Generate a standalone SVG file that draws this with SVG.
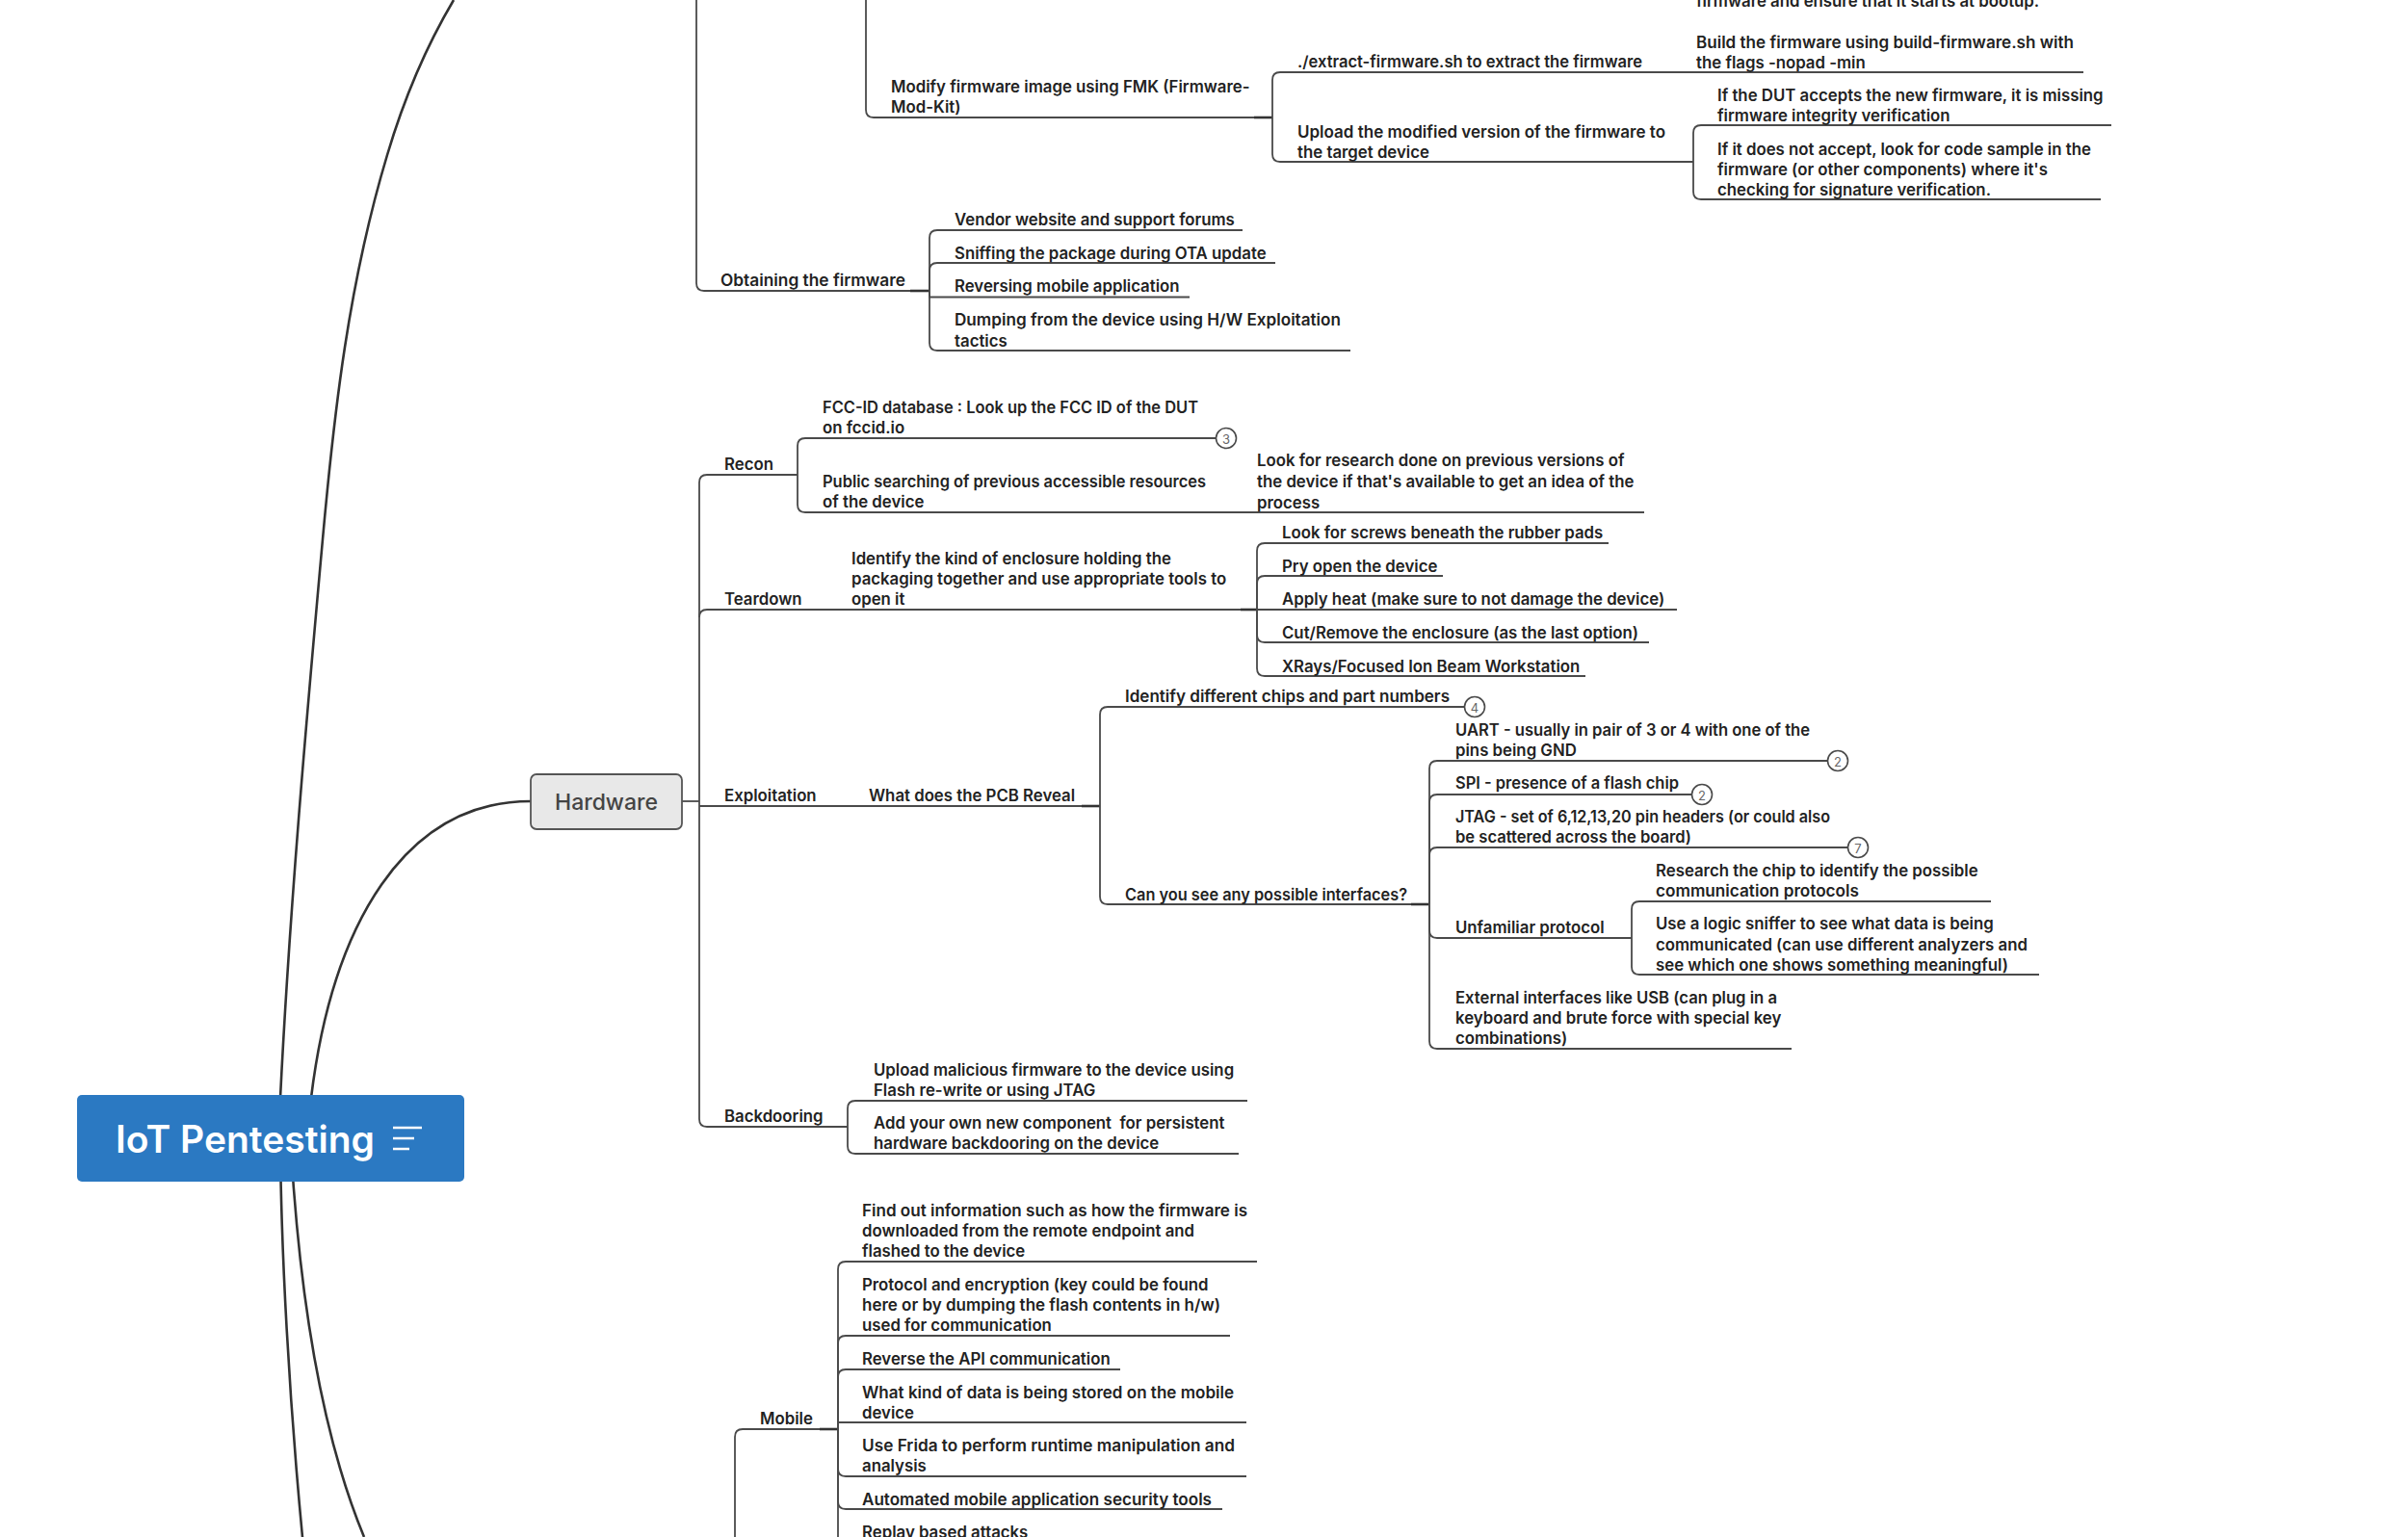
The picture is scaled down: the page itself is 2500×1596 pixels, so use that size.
<svg xmlns="http://www.w3.org/2000/svg" width="2500" height="1596" viewBox="0 0 2500 1596">
<style>
text{font-family:"Inter","Liberation Sans",sans-serif;font-weight:600;font-size:16.800px;fill:#222;white-space:pre;transform:translateY(.7px)}
.c{fill:none;stroke:#4a4a4a;stroke-width:1.8}
.s{fill:none;stroke:#333;stroke-width:2.6}
.t{fill:none;stroke:#333;stroke-width:2.6}
.b{fill:#fff;stroke:#4a4a4a;stroke-width:1.6}
.n{font-size:13px;font-weight:400;fill:#666;text-anchor:middle}
</style>
<rect width="2500" height="1596" fill="#fff"/>
<g id="connectors">
<path class="t" d="M291,1180C291,1165 291,1150 291,1140C300.600,947 317.600,753 335,560C347,427 362,294 402,161C418,107 439,54 471,0"/>
<path class="t" d="M323,1140C345,960 420,832 551,832"/>
<path class="t" d="M291,1190C292,1300 300,1450 314,1596"/>
<path class="t" d="M302,1190C310,1330 330,1480 378,1596"/>
<path class="c" d="M707,832H726"/>
<path class="c" d="M723,0V294Q723,302 731,302H965"/>
<path class="c" d="M899,0V114Q899,122 907,122H1321"/>
<path class="s" d="M1302,122H1321"/>
<path class="c" d="M1321,122V83Q1321,75 1329,75H2163"/>
<path class="c" d="M1321,122V160Q1321,168 1329,168H1758"/>
<path class="c" d="M1758,168V138Q1758,130 1766,130H2192"/>
<path class="c" d="M1758,168V199Q1758,207 1766,207H2181"/>
<path class="s" d="M945,302H965"/>
<path class="c" d="M965,302V247Q965,239 973,239H1290"/>
<path class="c" d="M965,302V281Q965,273 973,273H1324"/>
<path class="c" d="M965,302V308.500H1235"/>
<path class="c" d="M965,302V356Q965,364 973,364H1402"/>
<path class="c" d="M726,1162V501Q726,493 734,493H828"/>
<path class="c" d="M828,493V463Q828,455 836,455H1263"/>
<path class="c" d="M828,493V524Q828,532 836,532H1707"/>
<path class="c" d="M726,641Q726,633 734,633H1305"/>
<path class="s" d="M1288,633H1305"/>
<path class="c" d="M1305,633V572Q1305,564 1313,564H1670"/>
<path class="c" d="M1305,633V606Q1305,598 1313,598H1498"/>
<path class="c" d="M1305,633H1741"/>
<path class="c" d="M1305,633V659Q1305,667 1313,667H1712"/>
<path class="c" d="M1305,633V694Q1305,702 1313,702H1646"/>
<path class="c" d="M726,837H1142"/>
<path class="s" d="M1123,837H1142"/>
<path class="c" d="M1142,837V742Q1142,734 1150,734H1520"/>
<path class="c" d="M1142,837V931Q1142,939 1150,939H1484"/>
<path class="s" d="M1465,939H1484"/>
<path class="c" d="M1484,939V798Q1484,790 1492,790H1897"/>
<path class="c" d="M1484,939V833Q1484,825 1492,825H1756"/>
<path class="c" d="M1484,939V888Q1484,880 1492,880H1918"/>
<path class="c" d="M1484,939V966Q1484,974 1492,974H1694"/>
<path class="c" d="M1694,974V944Q1694,936 1702,936H2067"/>
<path class="c" d="M1694,974V1004Q1694,1012 1702,1012H2117"/>
<path class="c" d="M1484,939V1081Q1484,1089 1492,1089H1860"/>
<path class="c" d="M726,1162Q726,1170 734,1170H880"/>
<path class="c" d="M880,1170V1151Q880,1143 888,1143H1295"/>
<path class="c" d="M880,1170V1190Q880,1198 888,1198H1286"/>
<path class="c" d="M763,1596V1492Q763,1484 771,1484H870"/>
<path class="s" d="M851,1484H870"/>
<path class="c" d="M870,1484V1318Q870,1310 878,1310H1305"/>
<path class="c" d="M870,1484V1395Q870,1387 878,1387H1277"/>
<path class="c" d="M870,1484V1430Q870,1422 878,1422H1163"/>
<path class="c" d="M870,1484V1477H1294"/>
<path class="c" d="M870,1484V1525Q870,1533 878,1533H1294"/>
<path class="c" d="M870,1484V1559Q870,1567 878,1567H1269"/>
<path class="c" d="M870,1484V1596"/>
</g>
<g id="root">
<rect x="80" y="1137" width="402" height="90" rx="5" fill="#2b79c2"/>
<text x="120" y="1196" style="font-size:39px;font-weight:600;fill:#fff">IoT Pentesting</text>
<path d="M408,1171H438M408,1182H430M408,1193H425" fill="none" stroke="#fff" stroke-width="2.500"/>
</g>
<g id="hardware">
<rect x="551" y="804" width="157" height="57" rx="6" fill="#e8e8e8" stroke="#555" stroke-width="1.800"/>
<text x="576" y="840" style="font-size:23px;font-weight:500;fill:#444">Hardware</text>
</g>
<g id="firmware-branch">
<text x="1761" y="6">firmware and ensure that it starts at bootup.</text>
<text x="1761" y="49" textLength="392" lengthAdjust="spacingAndGlyphs">Build the firmware using build-firmware.sh with</text>
<text x="1761" y="70">the flags -nopad -min</text>
<text x="925" y="95">Modify firmware image using FMK (Firmware-</text>
<text x="925" y="116">Mod-Kit)</text>
<text x="1347" y="69" textLength="358" lengthAdjust="spacingAndGlyphs">./extract-firmware.sh to extract the firmware</text>
<text x="1347" y="142" textLength="382" lengthAdjust="spacingAndGlyphs">Upload the modified version of the firmware to</text>
<text x="1347" y="163">the target device</text>
<text x="1783" y="104">If the DUT accepts the new firmware, it is missing</text>
<text x="1783" y="125">firmware integrity verification</text>
<text x="1783" y="160">If it does not accept, look for code sample in the</text>
<text x="1783" y="181">firmware (or other components) where it's</text>
<text x="1783" y="202">checking for signature verification.</text>
</g>
<g id="obtaining">
<text x="748" y="296" textLength="192" lengthAdjust="spacingAndGlyphs">Obtaining the firmware</text>
<text x="991" y="233">Vendor website and support forums</text>
<text x="991" y="268">Sniffing the package during OTA update</text>
<text x="991" y="302">Reversing mobile application</text>
<text x="991" y="337" textLength="401" lengthAdjust="spacingAndGlyphs">Dumping from the device using H/W Exploitation</text>
<text x="991" y="359">tactics</text>
</g>
<g id="recon">
<text x="752" y="487">Recon</text>
<text x="854" y="428" textLength="390" lengthAdjust="spacingAndGlyphs">FCC-ID database : Look up the FCC ID of the DUT</text>
<text x="854" y="449">on fccid.io</text>
<circle class="b" cx="1273" cy="455" r="10.500"/><text class="n" x="1273" y="460">3</text>
<text x="854" y="505" textLength="398" lengthAdjust="spacingAndGlyphs">Public searching of previous accessible resources</text>
<text x="854" y="526">of the device</text>
<text x="1305" y="483">Look for research done on previous versions of</text>
<text x="1305" y="505">the device if that's available to get an idea of the</text>
<text x="1305" y="527">process</text>
</g>
<g id="teardown">
<text x="752" y="627">Teardown</text>
<text x="884" y="585">Identify the kind of enclosure holding the</text>
<text x="884" y="606">packaging together and use appropriate tools to</text>
<text x="884" y="627">open it</text>
<text x="1331" y="558">Look for screws beneath the rubber pads</text>
<text x="1331" y="593">Pry open the device</text>
<text x="1331" y="627">Apply heat (make sure to not damage the device)</text>
<text x="1331" y="662">Cut/Remove the enclosure (as the last option)</text>
<text x="1331" y="697">XRays/Focused Ion Beam Workstation</text>
</g>
<g id="exploitation">
<text x="752" y="831">Exploitation</text>
<text x="902" y="831">What does the PCB Reveal</text>
<text x="1168" y="728" textLength="337" lengthAdjust="spacingAndGlyphs">Identify different chips and part numbers</text>
<circle class="b" cx="1531" cy="734" r="10.500"/><text class="n" x="1531" y="739">4</text>
<text x="1168" y="934" textLength="293" lengthAdjust="spacingAndGlyphs">Can you see any possible interfaces?</text>
<text x="1511" y="763" textLength="368" lengthAdjust="spacingAndGlyphs">UART - usually in pair of 3 or 4 with one of the</text>
<text x="1511" y="784">pins being GND</text>
<circle class="b" cx="1908" cy="790" r="10.500"/><text class="n" x="1908" y="795">2</text>
<text x="1511" y="818" textLength="232" lengthAdjust="spacingAndGlyphs">SPI - presence of a flash chip</text>
<circle class="b" cx="1767" cy="825" r="10.500"/><text class="n" x="1767" y="830">2</text>
<text x="1511" y="853" textLength="389" lengthAdjust="spacingAndGlyphs">JTAG - set of 6,12,13,20 pin headers (or could also</text>
<text x="1511" y="874" textLength="245" lengthAdjust="spacingAndGlyphs">be scattered across the board)</text>
<circle class="b" cx="1929" cy="880" r="10.500"/><text class="n" x="1929" y="885">7</text>
<text x="1511" y="968">Unfamiliar protocol</text>
<text x="1719" y="909">Research the chip to identify the possible</text>
<text x="1719" y="930" textLength="211" lengthAdjust="spacingAndGlyphs">communication protocols</text>
<text x="1719" y="964">Use a logic sniffer to see what data is being</text>
<text x="1719" y="986">communicated (can use different analyzers and</text>
<text x="1719" y="1007">see which one shows something meaningful)</text>
<text x="1511" y="1041" textLength="334" lengthAdjust="spacingAndGlyphs">External interfaces like USB (can plug in a</text>
<text x="1511" y="1062">keyboard and brute force with special key</text>
<text x="1511" y="1083">combinations)</text>
</g>
<g id="backdooring">
<text x="752" y="1164">Backdooring</text>
<text x="907" y="1116">Upload malicious firmware to the device using</text>
<text x="907" y="1137">Flash re-write or using JTAG</text>
<text x="907" y="1171">Add your own new component  for persistent</text>
<text x="907" y="1192">hardware backdooring on the device</text>
</g>
<g id="mobile">
<text x="789" y="1478">Mobile</text>
<text x="895" y="1262" textLength="400" lengthAdjust="spacingAndGlyphs">Find out information such as how the firmware is</text>
<text x="895" y="1283">downloaded from the remote endpoint and</text>
<text x="895" y="1304">flashed to the device</text>
<text x="895" y="1339">Protocol and encryption (key could be found</text>
<text x="895" y="1360" textLength="372" lengthAdjust="spacingAndGlyphs">here or by dumping the flash contents in h/w)</text>
<text x="895" y="1381">used for communication</text>
<text x="895" y="1416">Reverse the API communication</text>
<text x="895" y="1451" textLength="386" lengthAdjust="spacingAndGlyphs">What kind of data is being stored on the mobile</text>
<text x="895" y="1472">device</text>
<text x="895" y="1506" textLength="387" lengthAdjust="spacingAndGlyphs">Use Frida to perform runtime manipulation and</text>
<text x="895" y="1527">analysis</text>
<text x="895" y="1562" textLength="363" lengthAdjust="spacingAndGlyphs">Automated mobile application security tools</text>
<text x="895" y="1596">Replay based attacks</text>
</g>
</svg>
